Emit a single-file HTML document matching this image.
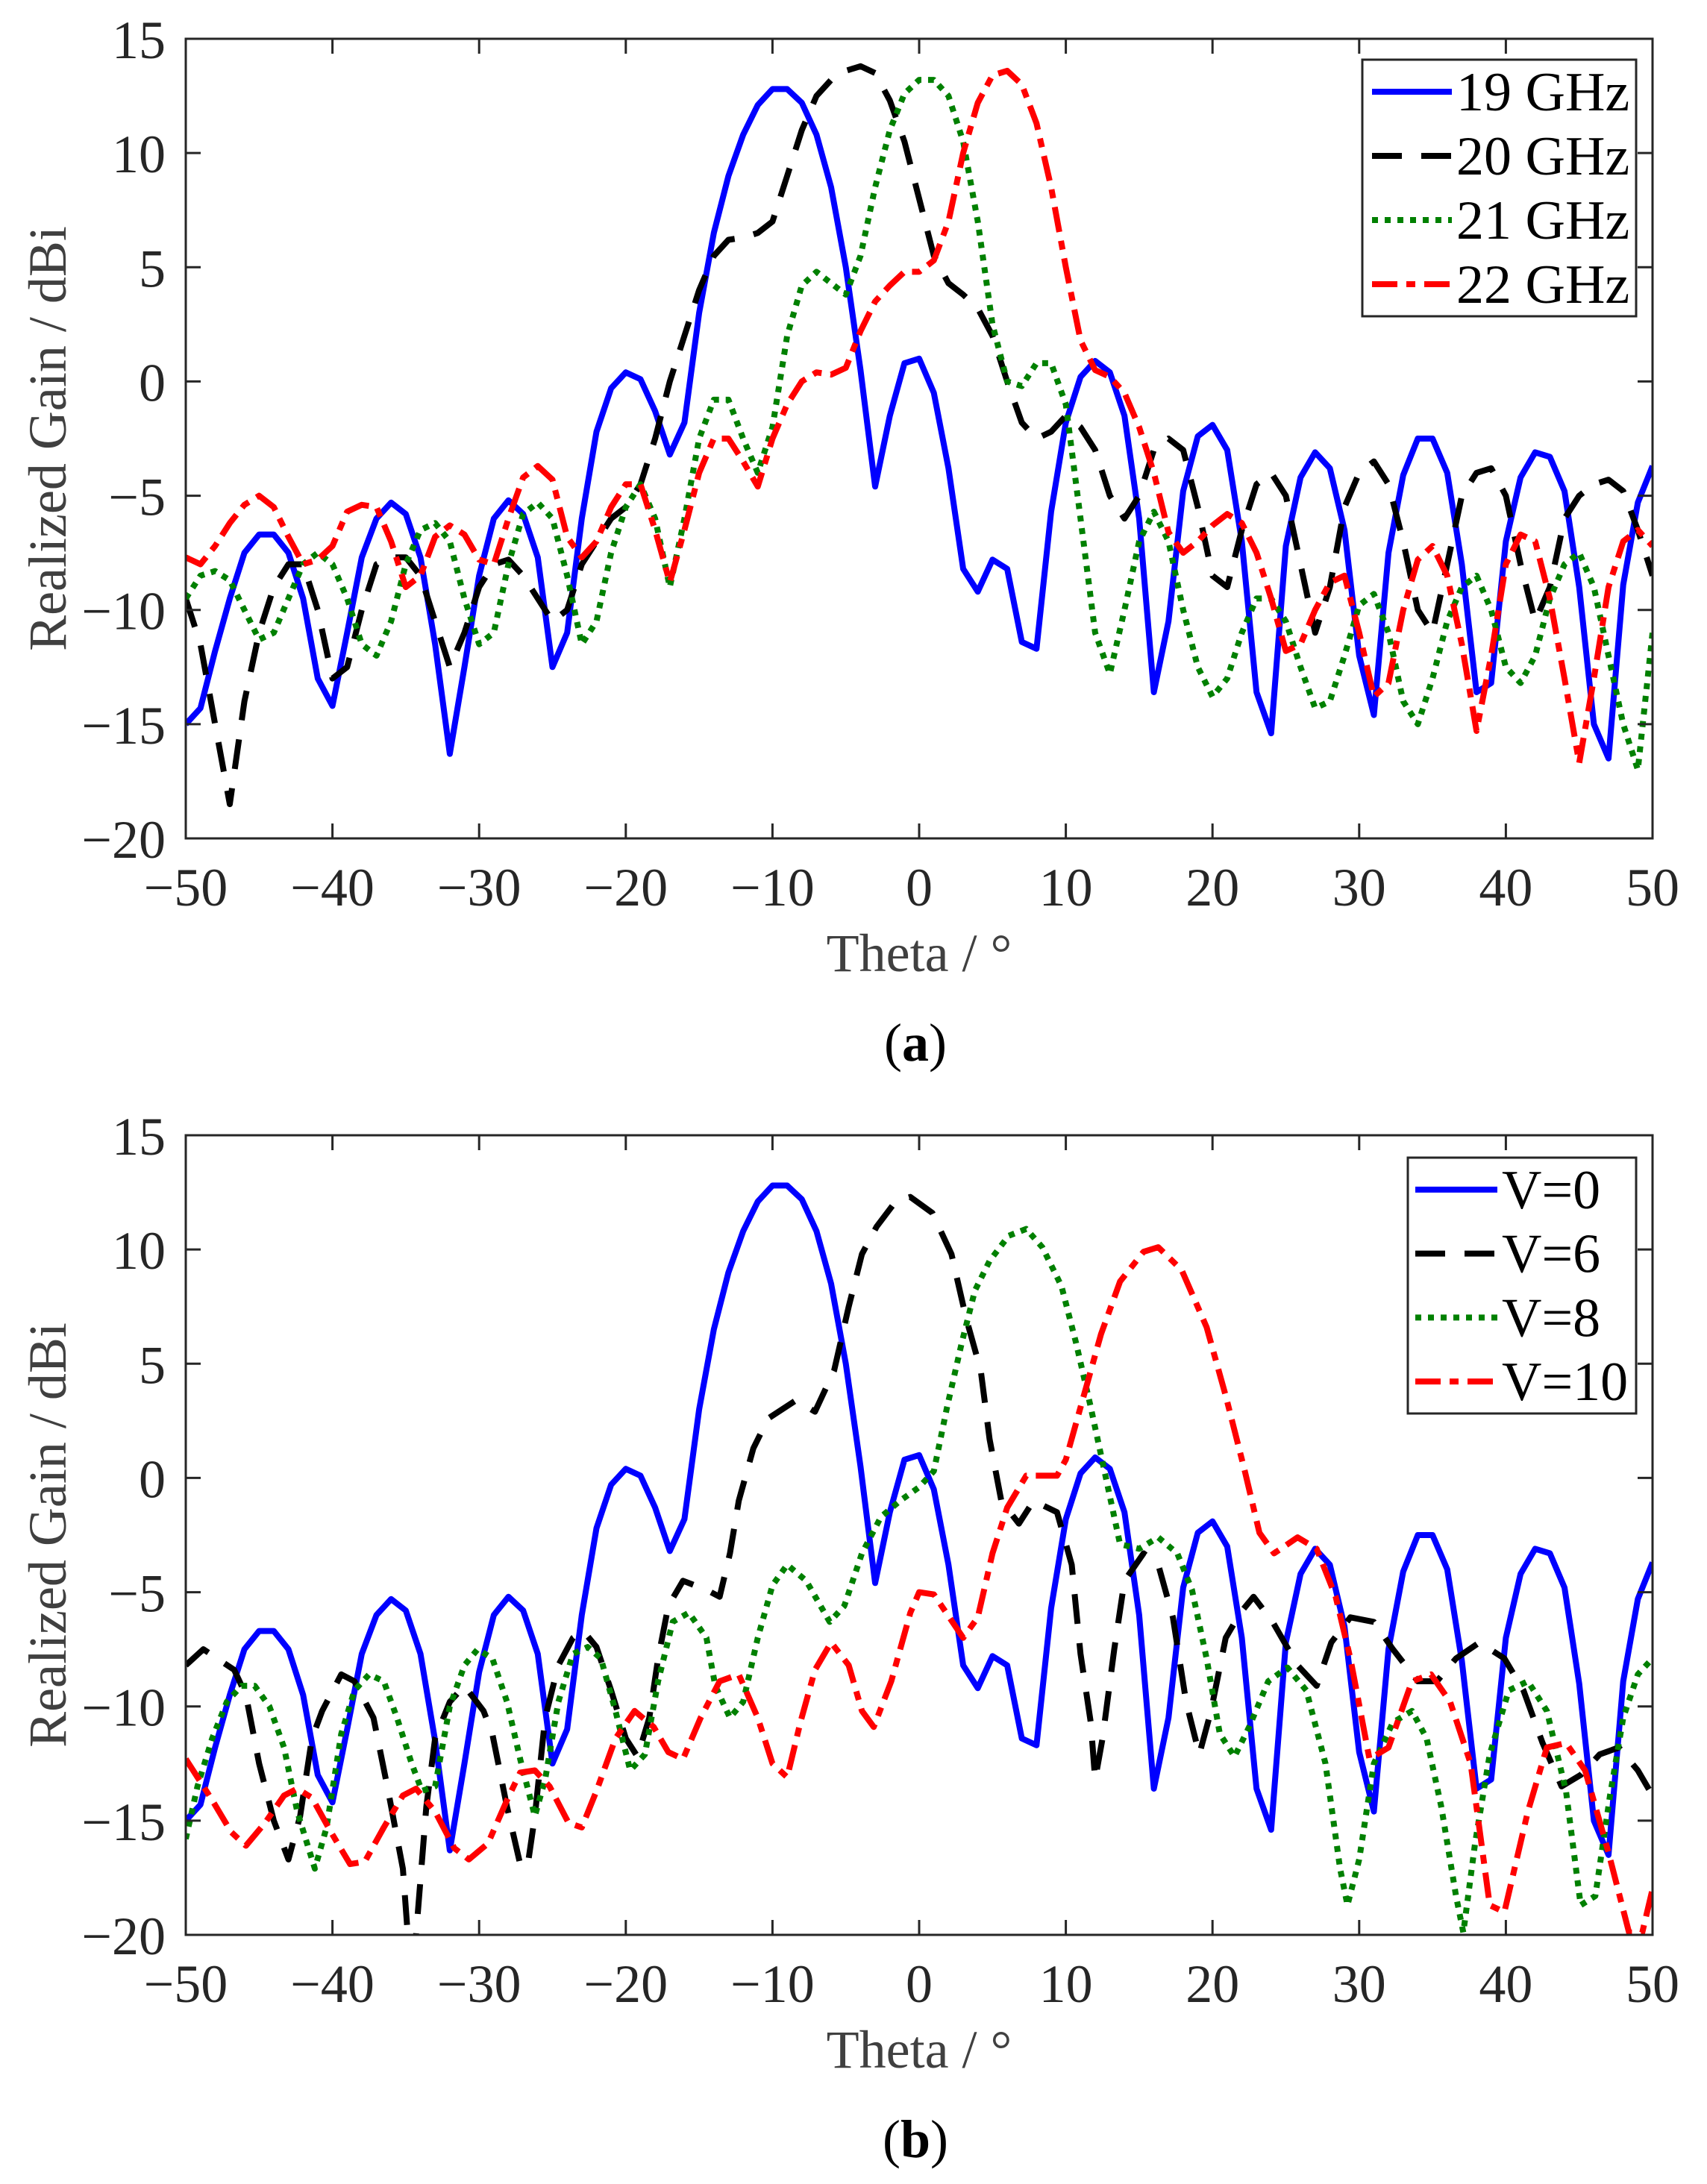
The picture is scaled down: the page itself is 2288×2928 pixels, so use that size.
<!DOCTYPE html>
<html><head><meta charset="utf-8"><style>
html,body{margin:0;padding:0;background:#fff;}
svg{display:block;}
text{font-family:"Liberation Serif",serif;}
</style></head><body>
<svg id="fig" width="2288" height="2928" viewBox="0 0 2288 2928" xmlns="http://www.w3.org/2000/svg"></svg>
<script>
const thetaGrid=[-50,-49,-48,-47,-46,-45,-44,-43,-42,-41,-40,-39,-38,-37,-36,-35,-34,-33,-32,-31,-30,-29,-28,-27,-26,-25,-24,-23,-22,-21,-20,-19,-18,-17,-16,-15,-14,-13,-12,-11,-10,-9,-8,-7,-6,-5,-4,-3,-2,-1,0,1,2,3,4,5,6,7,8,9,10,11,12,13,14,15,16,17,18,19,20,21,22,23,24,25,26,27,28,29,30,31,32,33,34,35,36,37,38,39,40,41,42,43,44,45,46,47,48,49,50];
const gain19=[-15,-14.3,-11.8,-9.5,-7.5,-6.7,-6.7,-7.5,-9.5,-13,-14.2,-11,-7.7,-6,-5.3,-5.8,-7.7,-11.5,-16.3,-12.5,-8.5,-6,-5.2,-5.8,-7.7,-12.5,-11,-6,-2.2,-0.3,0.4,0.1,-1.3,-3.2,-1.8,3,6.5,9,10.8,12.1,12.8,12.8,12.2,10.8,8.5,5,0.5,-4.6,-1.5,0.8,1,-0.5,-3.8,-8.2,-9.2,-7.8,-8.2,-11.4,-11.7,-5.7,-1.8,0.2,0.9,0.4,-1.5,-6,-13.6,-10.5,-4.8,-2.4,-1.9,-3,-7,-13.6,-15.4,-7.2,-4.2,-3.1,-3.8,-6.5,-12,-14.6,-7.5,-4.1,-2.5,-2.5,-4,-8,-13.6,-13.2,-7,-4.2,-3.1,-3.3,-4.8,-9,-15,-16.5,-8.9,-5.3,-3.7];
const gain20=[-9.5,-11.5,-15,-18.5,-14,-11,-9,-8,-8,-10,-13,-12.5,-10,-8,-7.7,-7.7,-8.5,-10.5,-12.5,-11,-9,-8,-7.8,-8.5,-9.5,-10.5,-10,-8,-7,-6,-5.5,-4.5,-2.5,0,2,4,5.5,6.2,6.3,6.5,7,9,11,12.5,13.2,13.6,13.8,13.5,12.3,10.5,8,5.5,4.3,3.8,3.2,2,0,-1.8,-2.5,-2.2,-1.5,-2,-3,-5,-6,-5,-3,-2.5,-3,-5.5,-8.5,-9,-6.5,-4.5,-4,-5,-8,-11,-9,-5.5,-4,-3.5,-4.5,-7,-10,-11,-8,-5,-4,-3.8,-5,-8,-10.5,-9,-6,-5,-4.5,-4.3,-4.8,-6.5,-8.5];
const gain21=[-9.5,-8.5,-8.3,-8.7,-10,-11.3,-11,-9.5,-8,-7.5,-8,-9.5,-11.5,-12,-10.5,-8,-6.5,-6.2,-7,-9.5,-11.5,-11,-8,-5.8,-5.3,-6,-8.5,-11.5,-10.5,-7.5,-5.5,-4.5,-6,-9,-6,-2.5,-0.8,-0.8,-2.5,-4,-2,2,4.2,4.8,4.3,3.8,5.5,8.5,11,12.6,13.2,13.2,12.5,10.5,7,2.5,0,-0.2,0.8,0.8,-1,-6,-11,-12.8,-10,-7,-5.7,-7,-10,-12.5,-13.8,-13,-11,-9.5,-9.5,-10.5,-12.5,-14.3,-14,-12,-9.8,-9.3,-11,-14,-15,-13,-10.5,-9,-8.5,-10,-12.5,-13.2,-12,-9.5,-8,-7.5,-9,-12,-15,-17,-11];
const gain22=[-7.7,-8,-7.2,-6.2,-5.4,-5,-5.5,-6.8,-8,-7.8,-7.2,-5.7,-5.4,-5.5,-7,-9,-8.5,-6.8,-6.3,-6.7,-7.8,-8,-6,-4.2,-3.7,-4.3,-6.8,-7.7,-7,-5.5,-4.5,-4.5,-6.5,-8.8,-6.5,-4,-2.5,-2.5,-3.5,-4.6,-2.5,-1,0,0.4,0.3,0.6,2.2,3.5,4.2,4.8,4.8,5.3,7,10,12.2,13.4,13.6,13,11.3,8.5,5,1.8,0.5,0.2,-0.5,-2,-4,-6.6,-7.5,-7,-6.3,-5.8,-6.2,-7.5,-9.5,-11.8,-11.5,-10,-8.8,-8.5,-11,-13.8,-13.2,-10,-7.8,-7.2,-8.5,-11.5,-15.3,-12,-8,-6.7,-7,-9.5,-13,-16.7,-13,-9,-7,-6.5,-7.2];

const thetaV6=[-50,-48.8,-46.7,-45.9,-45,-44,-43,-42.2,-41.4,-40.7,-39.4,-38.5,-37.2,-36.2,-35.2,-34.9,-34.4,-33.6,-33,-32,-31,-29.7,-29.1,-28.1,-27.2,-26.7,-26.2,-25.5,-24.6,-23.6,-22.9,-22,-21,-20,-19.2,-18.4,-17.8,-17.1,-16.1,-14.5,-13.6,-12.9,-12.3,-11.3,-10.3,-8.4,-7.1,-5.8,-4.8,-3.9,-2.9,-1.6,-0.6,0.9,2.2,3.2,4.2,4.8,5.6,6.8,7.8,9.4,10.4,11,11.7,12,12.5,13.3,14,15.3,16.3,17.3,18.2,19.1,19.9,20.9,21.9,22.8,24.1,25.8,27.1,28.1,29.4,31,32.3,34,35.3,36.6,38.2,39.9,41.2,42.5,43.8,45.1,46.4,47.7,49,50];
const gainV6=[-8.2,-7.5,-8.4,-9.5,-12.5,-15,-16.7,-14.8,-11.4,-10.2,-8.6,-8.9,-10.5,-13.7,-17.1,-19.7,-20.8,-14.4,-11.4,-9.8,-9.1,-10.2,-11.2,-14.4,-16.9,-17,-14.8,-10.5,-8.2,-7,-6.7,-7.4,-9.3,-11.4,-12.2,-10.5,-7.9,-5.6,-4.5,-4.9,-5.2,-3.3,-1,1.3,2.6,3.4,2.9,4.7,7.5,9.8,11,12.1,12.3,11.6,9.8,7,4.7,1.7,-1,-2,-1,-1.5,-3.8,-7.7,-10.7,-13.2,-11.4,-7.5,-4.5,-3.3,-3.8,-6.1,-9.8,-12.1,-10.2,-7,-5.9,-5.2,-6.3,-8.2,-9.1,-7.2,-6.1,-6.3,-7.5,-8.9,-8.9,-7.9,-7.2,-7.9,-9.3,-11.6,-13.5,-13,-12.1,-11.8,-12.8,-13.9];
const thetaV8=[-50,-49.2,-48.2,-47.2,-46.2,-45.3,-44.3,-43.3,-42.4,-41.2,-40.4,-39.4,-38.5,-37.5,-36.5,-35.6,-34.6,-33.9,-33,-32,-31,-30.1,-29.1,-28.1,-27.2,-26.2,-25.5,-24.6,-23.6,-22.6,-21.7,-20.7,-19.7,-18.7,-17.8,-16.8,-15.7,-14.5,-13.9,-12.9,-12,-11,-10,-9,-7.7,-6.1,-5.1,-3.9,-2.6,-1.3,0,1,1.9,2.9,3.8,4.8,6.1,7.3,8.4,9.7,10.7,11.7,12.7,13.7,15,16.3,17.6,18.6,19.6,20.5,21.5,22.5,23.8,25.1,26.4,27.7,28.7,29.2,30,31,32.3,33.6,34.6,35.6,36.6,37.1,37.9,38.9,40.2,41.5,42.8,44.1,45.1,46.1,47.1,48,49,50];
const gainV8=[-15.8,-13.5,-11.4,-9.8,-9.1,-9.1,-10,-11.8,-14.6,-17.1,-15.3,-11.2,-9.3,-8.6,-8.9,-10.5,-12.5,-13.7,-13.5,-10,-8.2,-7.5,-7.9,-9.8,-12.3,-14.8,-13.2,-9.8,-7.7,-7.4,-7.9,-10.2,-12.8,-12.1,-8.9,-6.3,-5.9,-7,-9.1,-10.5,-9.8,-7,-4.7,-3.8,-4.5,-6.3,-5.6,-3.3,-1.7,-1,-0.4,0.3,3.1,5.9,8.2,9.5,10.6,10.9,10.1,8.4,5.9,3.1,0.1,-2.9,-3.1,-2.6,-3.3,-4.9,-7.9,-11.2,-12.2,-10.9,-8.9,-8.3,-9.3,-12.5,-17.1,-18.7,-16.7,-12.5,-10.7,-10.2,-11.4,-14.4,-18.3,-19.9,-16,-12.1,-9.3,-8.9,-10.2,-13.7,-18.7,-18.3,-13.9,-10.5,-8.6,-7.9];
const thetaV10=[-50,-49.2,-48.2,-46.9,-45.9,-44.6,-43.3,-42.4,-41.4,-40.1,-38.8,-37.8,-36.5,-35.2,-34.3,-33,-31.7,-30.7,-29.4,-28.1,-27.2,-26.2,-25.2,-23.9,-23,-22,-20.7,-19.4,-18.1,-17.1,-16.1,-14.9,-13.6,-12.3,-11,-10,-9,-8.1,-7.1,-6,-4.8,-3.9,-3.1,-1.9,-0.6,0,1,3,4,5,6,7.3,9.4,10,11.4,12.4,13.7,15.3,16.3,17.9,19.6,20.9,22.2,23.2,24.2,25.8,27.1,28.4,29.4,30.7,32,33.6,34.9,36.2,37.6,38.9,39.9,41.5,42.8,44.1,45.4,47,48.4,49.3,50];
const gainV10=[-12.3,-13.1,-14.1,-15.5,-16.1,-15.1,-13.9,-13.6,-14,-15.5,-16.9,-16.8,-15.3,-13.9,-13.6,-14.6,-16.2,-16.7,-16,-14.1,-12.9,-12.8,-13.5,-15.1,-15.3,-13.7,-11.4,-10.2,-10.9,-12,-12.3,-10.5,-8.9,-8.6,-10.5,-12.5,-13.1,-10.7,-8.4,-7.2,-8.2,-10.2,-10.9,-8.9,-5.9,-5,-5.1,-7,-6.1,-3.3,-1.3,0.1,0.1,0.8,4,6.3,8.6,9.9,10.1,9.1,6.6,3.6,0.3,-2.4,-3.3,-2.6,-3.1,-5.2,-7.9,-12.3,-11.8,-8.9,-8.6,-9.8,-12.5,-18.7,-19,-14.6,-11.8,-11.6,-12.8,-16.4,-19.9,-19.9,-18];
const xTicks=[-50,-40,-30,-20,-10,0,10,20,30,40,50];
const yTicks=[-20,-15,-10,-5,0,5,10,15];

const NS="http://www.w3.org/2000/svg";
const svg=document.getElementById('fig');
function mk(tag,attrs,parent){const e=document.createElementNS(NS,tag);for(const k in attrs)e.setAttribute(k,attrs[k]);(parent||svg).appendChild(e);return e;}

const X0=249,X1=2215;
function makePanel(top,id,series,legendBox,labels,caption){
  const H=1072,bottom=top+H;
  const sx=v=>X0+(v+50)/100*(X1-X0);
  const sy=v=>bottom-(v+20)/35*H;
  const g=mk('g',{});
  
  
  const cp=mk('clipPath',{id:'clip'+id},g);
  mk('rect',{x:X0,y:top,width:X1-X0,height:H},cp);
  // series
  const sg=mk('g',{'clip-path':'url(#clip'+id+')'},g);
  series.forEach(s=>{
    let d='';
    s.t.forEach((t,i)=>{d+=(i?'L':'M')+sx(t).toFixed(1)+','+sy(s.v[i]).toFixed(1);});
    const p=mk('path',{d:d,fill:'none',stroke:s.color,'stroke-width':8,'stroke-linejoin':'round','stroke-dasharray':s.dash||'none'},sg);
    
    
  });
  // axes box
  const box=mk('rect',{x:X0,y:top,width:X1-X0,height:H,fill:'none',stroke:'#262626','stroke-width':3},g);
  
  
  xTicks.forEach(t=>{
    const x=sx(t);
    mk('line',{x1:x,y1:bottom,x2:x,y2:bottom-20,stroke:'#262626','stroke-width':3},g);
    mk('line',{x1:x,y1:top,x2:x,y2:top+20,stroke:'#262626','stroke-width':3},g);
    const tx=mk('text',{x:x,y:bottom+90,'font-size':72,'text-anchor':'middle',fill:'#262626'},g);
    tx.textContent=(t<0?'\u2212'+(-t):t);
    
    
  });
  yTicks.forEach(t=>{
    const y=sy(t);
    mk('line',{x1:X0,y1:y,x2:X0+20,y2:y,stroke:'#262626','stroke-width':3},g);
    mk('line',{x1:X1,y1:y,x2:X1-20,y2:y,stroke:'#262626','stroke-width':3},g);
    const ty=mk('text',{x:222,y:y+26,'font-size':72,'text-anchor':'end',fill:'#262626'},g);
    ty.textContent=(t<0?'\u2212'+(-t):t);
    
    
  });
  const xl=mk('text',{x:(X0+X1)/2,y:bottom+178,'font-size':72,'text-anchor':'middle',fill:'#404040'},g);
  xl.textContent='Theta / \u00B0';
  
  
  const cy=(top+bottom)/2;
  const yl=mk('text',{x:0,y:0,'font-size':72,'text-anchor':'middle',fill:'#404040',transform:'translate(88,'+cy+') rotate(-90)'},g);
  yl.textContent='Realized Gain / dBi';
  
  
  const cap=mk('text',{x:(X0+X1)/2-5,y:bottom+298,'font-size':72,'text-anchor':'middle',fill:'#000'},g);
  cap.innerHTML='(<tspan font-weight="bold">'+caption+'</tspan>)';
  
  
  // legend
  const lg=mk('g',{},g);
  
  
  mk('rect',{x:legendBox.x,y:legendBox.y,width:legendBox.w,height:legendBox.h,fill:'#fff',stroke:'#262626','stroke-width':3},lg);
  series.forEach((s,i)=>{
    const y=legendBox.y+legendBox.h*(i*2+1)/8;
    const ln=mk('line',{x1:legendBox.lx0,y1:y,x2:legendBox.lx1,y2:y,stroke:s.color,'stroke-width':8,'stroke-dasharray':s.dash||'none'},lg);
    
    
    const t=mk('text',{x:legendBox.lx1+6,y:y+25,'font-size':74,fill:'#000'},lg);
    t.textContent=labels[i];
    
    
  });
}

makePanel(52,'a',[
  {key:'19ghz',t:thetaGrid,v:gain19,color:'#0000ff'},
  {key:'20ghz',t:thetaGrid,v:gain20,color:'#000000',dash:'40 26'},
  {key:'21ghz',t:thetaGrid,v:gain21,color:'#008000',dash:'8 9'},
  {key:'22ghz',t:thetaGrid,v:gain22,color:'#ff0000',dash:'34 12 12 12'}
],{x:1826,y:80,w:367,h:344,lx0:1839,lx1:1946},['19 GHz','20 GHz','21 GHz','22 GHz'],'a');

makePanel(1522,'b',[
  {key:'v0',t:thetaGrid,v:gain19,color:'#0000ff'},
  {key:'v6',t:thetaV6,v:gainV6,color:'#000000',dash:'40 26'},
  {key:'v8',t:thetaV8,v:gainV8,color:'#008000',dash:'8 9'},
  {key:'v10',t:thetaV10,v:gainV10,color:'#ff0000',dash:'34 12 12 12'}
],{x:1887,y:1552,w:306,h:343,lx0:1897,lx1:2007},['V=0','V=6','V=8','V=10'],'b');
</script>
</body></html>
